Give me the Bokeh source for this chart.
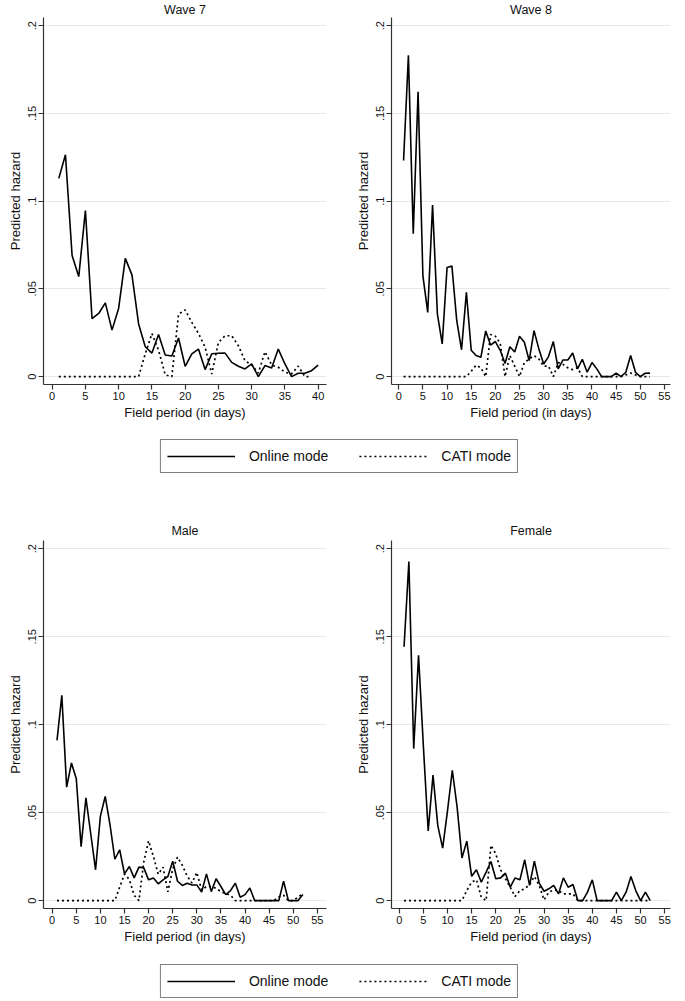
from bokeh.plotting import figure
from bokeh.layouts import column, row
from bokeh.models import Range1d, FixedTicker, CustomJSTickFormatter, Legend, LegendItem
from bokeh.embed import file_html
from bokeh.resources import INLINE

# ---------------- data ----------------
panel_titles = ["Wave 7", "Wave 8", "Male", "Female"]
series_names = ["Online mode", "CATI mode"]
ytick_vals = [0, 0.05, 0.1, 0.15, 0.2]
xticks_w7 = [0, 5, 10, 15, 20, 25, 30, 35, 40]
xticks_long = [0, 5, 10, 15, 20, 25, 30, 35, 40, 45, 50, 55]

days_w7_online = list(range(1, 41))
online_w7 = [0.113, 0.1265, 0.069, 0.057, 0.0947, 0.033, 0.036, 0.042, 0.0265, 0.039,
             0.0674, 0.058, 0.030, 0.017, 0.0134, 0.024, 0.0123, 0.0117, 0.022, 0.0058,
             0.013, 0.0157, 0.004, 0.013, 0.0133, 0.0134, 0.0081, 0.0059, 0.0044, 0.0072,
             0.0, 0.0063, 0.0049, 0.0157, 0.0072, 0.0, 0.0019, 0.0019, 0.0034, 0.0066]
days_w7_cati = list(range(1, 40))
cati_w7 = [0, 0, 0, 0, 0, 0, 0, 0, 0, 0,
           0, 0, 0, 0.013, 0.0246, 0.015, 0.001, 0.0, 0.0356, 0.038,
           0.0309, 0.0246, 0.0167, 0.0015, 0.0195, 0.0233, 0.0233, 0.0176, 0.009, 0.0066,
           0.002, 0.0142, 0.0066, 0.0053, 0.0025, 0.0015, 0.006, 0.0, 0.0]

days_w8 = list(range(1, 53))
online_w8 = [0.1232, 0.1831, 0.0815, 0.1623, 0.0574, 0.0366, 0.0978, 0.0356, 0.0186, 0.0622,
             0.0631, 0.032, 0.0153, 0.048, 0.015, 0.012, 0.011, 0.026, 0.018, 0.020,
             0.015, 0.0075, 0.017, 0.014, 0.023, 0.0196, 0.0091, 0.0262, 0.0158, 0.0072,
             0.0114, 0.020, 0.0044, 0.0095, 0.0095, 0.0135, 0.0044, 0.0099, 0.0025, 0.008,
             0.0044, 0.0, 0.0, 0.0, 0.002, 0.0, 0.0025, 0.012, 0.0025, 0.0,
             0.0019, 0.002]
cati_w8 = [0, 0, 0, 0, 0, 0, 0, 0, 0, 0,
           0, 0, 0, 0, 0.003, 0.0065, 0.005, 0.0, 0.024, 0.023,
           0.019, 0.0, 0.012, 0.006, 0.0, 0.008, 0.010, 0.012, 0.010, 0.006,
           0.006, 0.0, 0.008, 0.007, 0.005, 0.004, 0.005, 0.0, 0.0, 0.0,
           0.0, 0.0, 0.0, 0.0, 0.0, 0.0, 0.001, 0.002, 0.001, 0.0,
           0.0, 0.0]

days_male = list(range(1, 53))
online_male = [0.0911, 0.1167, 0.0645, 0.0782, 0.0693, 0.0307, 0.0584, 0.038, 0.0175, 0.048,
               0.0592, 0.043, 0.0235, 0.0289, 0.0152, 0.0194, 0.0129, 0.019, 0.0186, 0.0118,
               0.0129, 0.0095, 0.0118, 0.0137, 0.0224, 0.011, 0.0086, 0.0099, 0.0089, 0.0089,
               0.0048, 0.0152, 0.0051, 0.0124, 0.008, 0.0034, 0.0057, 0.0099, 0.0019, 0.0034,
               0.0072, 0.0, 0.0, 0.0, 0.0, 0.0, 0.0, 0.011, 0.0, 0.0,
               0.0, 0.0034]
cati_male = [0, 0, 0, 0, 0, 0, 0, 0, 0, 0,
             0, 0, 0, 0.0076, 0.015, 0.012, 0.003, 0.0, 0.022, 0.034,
             0.025, 0.015, 0.019, 0.005, 0.018, 0.0247, 0.020, 0.014, 0.010, 0.016,
             0.006, 0.008, 0.008, 0.007, 0.005, 0.004, 0.003, 0.0, 0.0, 0.0,
             0.0, 0.0, 0.0, 0.0, 0.0, 0.0, 0.002, 0.003, 0.0, 0.0,
             0.002, 0.004]

days_female = list(range(1, 53))
online_female = [0.1443, 0.1927, 0.0864, 0.1395, 0.088, 0.0396, 0.0713, 0.0425, 0.0298, 0.051,
                 0.0741, 0.053, 0.0242, 0.0338, 0.0138, 0.0175, 0.0105, 0.0162, 0.0222, 0.0124,
                 0.0129, 0.0156, 0.0076, 0.0129, 0.0118, 0.0232, 0.0086, 0.0224, 0.0099, 0.0053,
                 0.0067, 0.0086, 0.0038, 0.0129, 0.0076, 0.0091, 0.0, 0.0, 0.0048, 0.0118,
                 0.0, 0.0, 0.0, 0.0, 0.0048, 0.0, 0.0048, 0.0137, 0.0057, 0.0,
                 0.0048, 0.0]
cati_female = [0, 0, 0, 0, 0, 0, 0, 0, 0, 0,
               0, 0, 0, 0.0057, 0.0105, 0.0118, 0.002, 0.0, 0.0314, 0.0266,
               0.0175, 0.0124, 0.0076, 0.0023, 0.0057, 0.0067, 0.0091, 0.0137, 0.0086, 0.0004,
               0.0048, 0.006, 0.0057, 0.0038, 0.0038, 0.0038, 0.0, 0.0, 0.0, 0.0,
               0.0, 0.0, 0.0, 0.0, 0.0, 0.0, 0.0, 0.0, 0.0, 0.0,
               0.0, 0.0]

# ---------------- styling ----------------
FONT = "Liberation Sans"
FRAME_H = 368
Y0, Y1 = -0.0045, 0.2047
BOTTOM = 42
DASH = "2 3"


def make_panel(title, d_on, on, d_ca, ca, xr, xticks, width, left, right, top, t_standoff):
    p = figure(width=width, height=top + FRAME_H + BOTTOM,
               x_range=Range1d(*xr), y_range=Range1d(Y0, Y1),
               toolbar_location=None, output_backend="svg",
               min_border_left=left, min_border_right=right,
               min_border_top=top, min_border_bottom=BOTTOM)
    p.outline_line_color = None
    p.background_fill_color = "white"
    p.border_fill_color = "white"

    p.line(d_on, on, line_color="black", line_width=1.6)
    p.line(d_ca, ca, line_color="black", line_width=1.7, line_dash=DASH)

    p.title.text = title
    p.title.align = "center"
    p.title.text_font = FONT
    p.title.text_font_size = "12.5px"
    p.title.text_font_style = "normal"
    p.title.text_color = "#111111"
    p.title.standoff = t_standoff

    p.xaxis.ticker = FixedTicker(ticks=xticks)
    p.yaxis.ticker = FixedTicker(ticks=ytick_vals)
    p.yaxis.formatter = CustomJSTickFormatter(code=
        "if (tick == 0) { return '0'; } "
        "return (Math.round(tick*100)/100).toString().replace(/^0\\./, '.');")
    p.yaxis.major_label_orientation = "vertical"
    p.xaxis.axis_label = "Field period (in days)"
    p.yaxis.axis_label = "Predicted hazard"

    for ax in p.axis:
        ax.axis_line_color = "#333333"
        ax.axis_line_width = 1.2
        ax.major_tick_line_color = "#333333"
        ax.major_tick_line_width = 1.2
        ax.major_tick_out = 5
        ax.major_tick_in = 0
        ax.minor_tick_line_color = None
        ax.major_label_text_font = FONT
        ax.major_label_text_font_size = "11px"
        ax.major_label_text_color = "#111111"
        ax.major_label_standoff = 2
        ax.axis_label_text_font = FONT
        ax.axis_label_text_font_size = "13px"
        ax.axis_label_text_font_style = "normal"
        ax.axis_label_text_color = "#111111"
    p.xaxis.axis_label_standoff = 2
    p.yaxis.axis_label_standoff = 3

    p.xgrid.visible = False
    p.ygrid.grid_line_color = "#e8e8e8"
    p.ygrid.grid_line_width = 1
    return p


def make_legend(height):
    f = figure(width=678, height=height, x_range=Range1d(0, 1), y_range=Range1d(0, 1),
               toolbar_location=None, output_backend="svg",
               x_axis_type=None, y_axis_type=None,
               min_border_left=0, min_border_right=0, min_border_top=0, min_border_bottom=0)
    f.outline_line_color = None
    f.xgrid.visible = False
    f.ygrid.visible = False
    # legend keys reuse one panel's series, hidden, so only the key samples show
    r1 = f.line(days_w7_online, online_w7, line_color="black", line_width=1.6, visible=False)
    r2 = f.line(days_w7_cati, cati_w7, line_color="black", line_width=1.7,
                line_dash=DASH, visible=False)
    leg = Legend(items=[LegendItem(label=series_names[0], renderers=[r1]),
                        LegendItem(label=series_names[1], renderers=[r2])],
                 orientation="horizontal", location="bottom_center",
                 border_line_color="black", border_line_width=1,
                 background_fill_color="white", background_fill_alpha=1,
                 inactive_fill_alpha=0,
                 padding=6, spacing=31, label_standoff=14,
                 glyph_width=68, glyph_height=20, label_height=20,
                 label_text_font=FONT, label_text_font_size="14px",
                 label_text_color="#111111", margin=1)
    f.add_layout(leg)
    return f


p1 = make_panel(panel_titles[0], days_w7_online, online_w7, days_w7_cati, cati_w7,
                (-1.3, 41.25), xticks_w7, 350, 43, 24, 16, 1)
p2 = make_panel(panel_titles[1], days_w8, online_w8, days_w8, cati_w8,
                (-1.5, 56.25), xticks_long, 335, 41, 15, 16, 1)
p3 = make_panel(panel_titles[2], days_male, online_male, days_male, cati_male,
                (-1.8, 56.9), xticks_long, 350, 43, 24, 66, 5)
p4 = make_panel(panel_titles[3], days_female, online_female, days_female, cati_female,
                (-1.6, 56.2), xticks_long, 335, 41, 15, 66, 5)

leg1 = make_legend(48)
leg2 = make_legend(49)

layout = column(row(p1, p2), leg1, row(p3, p4), leg2)

open("out.html", "w").write(file_html(layout, INLINE))
